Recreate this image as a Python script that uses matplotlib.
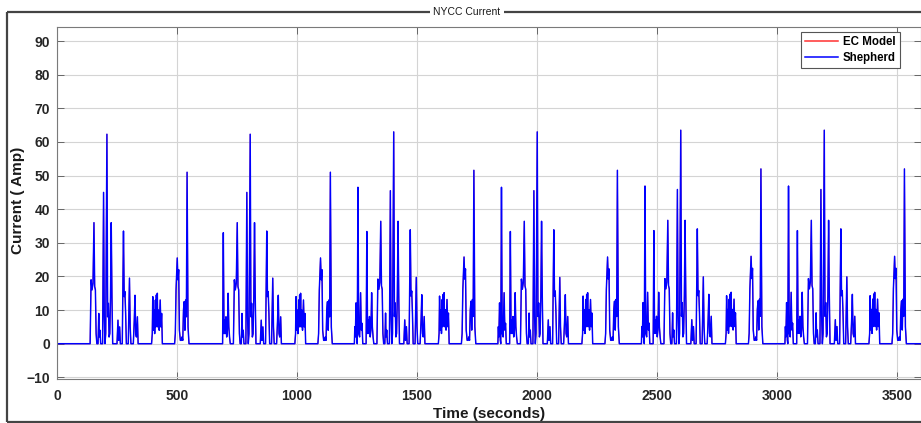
import numpy as np
import matplotlib
matplotlib.use('Agg')
import matplotlib.pyplot as plt
from matplotlib.lines import Line2D

plt.rcParams['font.family'] = ['Liberation Sans', 'DejaVu Sans']

# One NYCC repetition: (seconds into the cycle, current in Amp).
# The cycle is driven 6 times; the first two runs miss the opening events.
lead_a_t = [44, 46, 48, 51, 54, 56, 59, 62, 66, 70, 73, 76, 79]
lead_a_i = [0, 5, 2, 12, 1, 0, 46, 3, 2, 15, 4, 6, 0]

lead_b_t = [93, 96, 99, 101, 104, 107, 110, 113, 116, 119, 122, 125]
lead_b_i = [0, 33, 3, 7, 3, 8, 2, 4, 15, 5, 2, 0]

main_t = [138, 142, 146, 150, 154, 157, 160, 163, 166,
          171, 174, 176, 179, 182,
          190, 194, 197, 200, 203, 208, 211, 214, 217, 220, 223, 226, 229, 232,
          250, 254, 257, 261, 264,
          272, 277, 280, 283, 286, 289,
          297, 302, 305, 308,
          318, 322, 325, 328, 331, 335, 338,
          394, 397, 399, 402, 405, 407, 410, 412, 414, 416, 418, 420, 423, 426, 430, 433, 436, 439,
          490, 493, 496, 501, 504, 507, 510, 514, 518, 521, 524, 527, 530, 533, 536, 539, 542, 546, 550]
main_i = [0, 19, 16, 18, 36, 17, 16, 3, 0,
          0, 9, 2, 4, 0,
          0, 45, 8, 0, 3, 62.3, 8, 12, 2, 3, 14, 36, 14, 0,
          0, 7, 1, 5, 0,
          0, 33.5, 14, 15.5, 9, 0,
          0, 19.5, 5, 0,
          0, 7, 14.4, 3, 2, 8, 0,
          0, 3, 14, 4, 10, 3, 13, 5, 14.5, 6, 15, 5, 10, 4, 13, 5, 9, 0,
          0, 3, 16, 25.5, 19, 22, 4, 1, 1, 2, 1, 10, 12.5, 4, 13, 8, 51, 5, 0]

cycle_start = [0, 597, 1195, 1793, 2391, 2989]
cycle_lead_a = [False, False, True, True, True, True]
cycle_lead_b = [False, True, True, True, True, True]
cycle_peak = [62.3, 62.3, 63.0, 63.0, 63.5, 63.5]
t_end = 3600

# stitch the cycles together
time = [0]
current = [0]
for k in range(len(cycle_start)):
    gain = cycle_peak[k] / 62.3
    parts = []
    if cycle_lead_a[k]:
        parts.append((lead_a_t, lead_a_i))
    if cycle_lead_b[k]:
        parts.append((lead_b_t, lead_b_i))
    parts.append((main_t, main_i))
    for pt, pi in parts:
        time += [cycle_start[k] + v for v in pt]
        current += [gain * v for v in pi]
time.append(t_end)
current.append(0)
time = np.array(time)
current = np.array(current)

fig = plt.figure(figsize=(9.21, 4.23), dpi=100)
W, H = 921, 423
ax = fig.add_axes([57 / W, 1 - 379 / H, 864 / W, (379 - 27.3) / H])

ax.plot(time, current, color='#ff3030', lw=0.7, label='EC Model')
ax.plot(time, current, color='#0000ff', lw=1.05, label='Shepherd')

ax.set_xlim(0, 3600)
ax.set_ylim(-10.5, 94.1)
ax.set_xticks(np.arange(0, 3501, 500))
ax.set_yticks(np.arange(-10, 91, 10))
ax.grid(True, color='#d4d4d4', lw=0.8)
ax.set_axisbelow(True)
ax.tick_params(direction='in', length=5, width=0.7, color='#666666',
               top=True, right=True, labelsize=10, labelcolor='#262626')
ax.tick_params(axis='x', pad=7)
ax.tick_params(axis='y', pad=5)
for lab in ax.get_xticklabels() + ax.get_yticklabels():
    lab.set_fontweight('bold')
for s in ax.spines.values():
    s.set_color('#7a7a7a')
    s.set_linewidth(0.8)

fig.text(489 / W, 1 - 418 / H, 'Time (seconds)', ha='center', va='baseline',
         fontsize=11, fontweight='bold', color='#1a1a1a')
fig.text(18 / W, 1 - 200 / H, 'Current ( Amp)', ha='center', va='center',
         rotation=90, fontsize=11, fontweight='bold', color='#1a1a1a')

leg = ax.legend(loc='upper right', bbox_to_anchor=(900 / W, 1 - 32.3 / H),
                bbox_transform=fig.transFigure, borderaxespad=0,
                fancybox=False, framealpha=1, edgecolor='#555555',
                handlelength=2.9, handletextpad=0.4, labelspacing=0.3,
                borderpad=0.35, prop={'size': 8.3, 'weight': 'bold'})
leg.get_frame().set_linewidth(0.8)
for ln in leg.get_lines():
    ln.set_linewidth(1.1)

# panel border with its title
border = dict(color='#444444', lw=1.6, transform=fig.transFigure, solid_capstyle='butt')
fig.add_artist(Line2D([7 / W, 7 / W], [1 - 12 / H, 1 - 421.5 / H], **border))
fig.add_artist(Line2D([7 / W, 1], [1 - 12 / H, 1 - 12 / H], **border))
fig.add_artist(Line2D([7 / W, 1], [1 - 421.5 / H, 1 - 421.5 / H], **border))
fig.text(467 / W, 1 - 12 / H, 'NYCC Current', ha='center', va='center', fontsize=7.5,
         color='#1a1a1a', bbox=dict(facecolor='white', edgecolor='none', pad=2.5))

fig.savefig('out.png', dpi=100)
